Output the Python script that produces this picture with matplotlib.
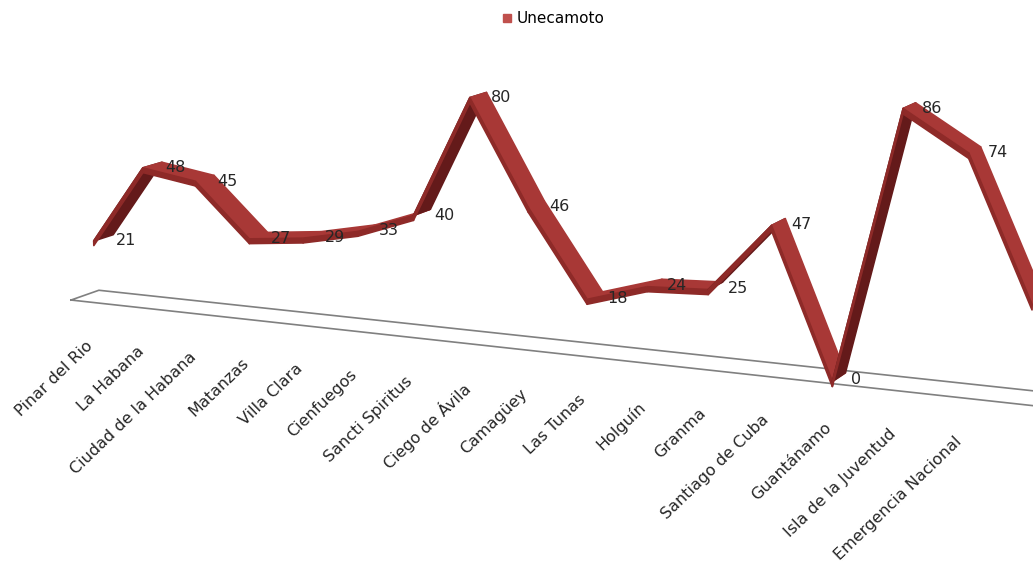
import matplotlib
matplotlib.use('Agg')
import matplotlib.pyplot as plt
import numpy as np
from mpl_toolkits.mplot3d import proj3d
from mpl_toolkits.mplot3d.art3d import Poly3DCollection
from matplotlib.lines import Line2D

provincias = ['Pinar del Rio', 'La Habana', 'Ciudad de la Habana', 'Matanzas',
              'Villa Clara', 'Cienfuegos', 'Sancti Spiritus', 'Ciego de Ávila',
              'Camagüey', 'Las Tunas', 'Holguín', 'Granma', 'Santiago de Cuba',
              'Guantánamo', 'Isla de la Juventud', 'Emergencia Nacional']
# 17th point is cut off by the right edge of the original picture
unecamoto = [21, 48, 45, 27, 29, 33, 40, 80, 46, 18, 24, 25, 47, 0, 86, 74, 30]

W, H = 1033, 567
fig = plt.figure(figsize=(W / 100, H / 100), dpi=100)
# big square 3d axes so nothing gets clipped inside the figure
ax = fig.add_axes([-0.0446, -0.3655, 1.098, 2.0], projection='3d')
ax.set_proj_type('persp', focal_length=0.48)
ax.view_init(elev=10.5, azim=-65)
ax.set_box_aspect((1100, 55, 318), zoom=0.965)
ax.set_axis_off()

n = len(unecamoto)
xs = np.arange(n)
ax.set_xlim(-0.4, n - 1 + 0.4)
ax.set_ylim(0, 1)
ax.set_zlim(0, 100)

# floor outline
fx = [-0.4, n - 0.6, n - 0.6, -0.4, -0.4]
fy = [0, 0, 1, 1, 0]
ax.plot(fx, fy, [0] * 5, color='#808080', lw=1.2)

# ribbon: top strip plus a thin front face
y0, y1, h = 0.15, 0.85, 1.6
faces, cols = [], []
for k in range(n - 1):
    va, vb = unecamoto[k], unecamoto[k + 1]
    faces.append([(xs[k], y0, va), (xs[k + 1], y0, vb),
                  (xs[k + 1], y0, vb - h), (xs[k], y0, va - h)])
    cols.append('#8e2a28')
    faces.append([(xs[k], y0, va), (xs[k + 1], y0, vb),
                  (xs[k + 1], y1, vb), (xs[k], y1, va)])
    cols.append('#641a1a' if vb - va > 20 else '#a83836')
ribbon = Poly3DCollection(faces, facecolors=cols, edgecolors=cols, linewidths=1.2)
ax.add_collection3d(ribbon)

M = ax.get_proj()

# data labels
for i, v in enumerate(unecamoto[:-1]):
    px, py, _ = proj3d.proj_transform(xs[i], 0.5, v, M)
    ax.annotate(str(v), (px, py), xytext=(9, -2), textcoords='offset points',
                ha='left', va='center', fontsize=11.5, color='#262626')

# category labels under the front edge of the floor
for i, name in enumerate(provincias):
    px, py, _ = proj3d.proj_transform(xs[i], 0, 0, M)
    ax.annotate(name, (px, py), xytext=(-4, -26), textcoords='offset points',
                ha='right', va='top', rotation=44, rotation_mode='anchor',
                fontsize=11.5, color='#262626')

handle = Line2D([], [], marker='s', ls='none', color='#c0504d', markersize=6)
fig.legend(handles=[handle], labels=['Unecamoto'], loc='upper center',
           bbox_to_anchor=(0.535, 1.005), frameon=False, fontsize=11,
           handletextpad=0.2, handlelength=0.8)

fig.savefig('out.png', dpi=100)
